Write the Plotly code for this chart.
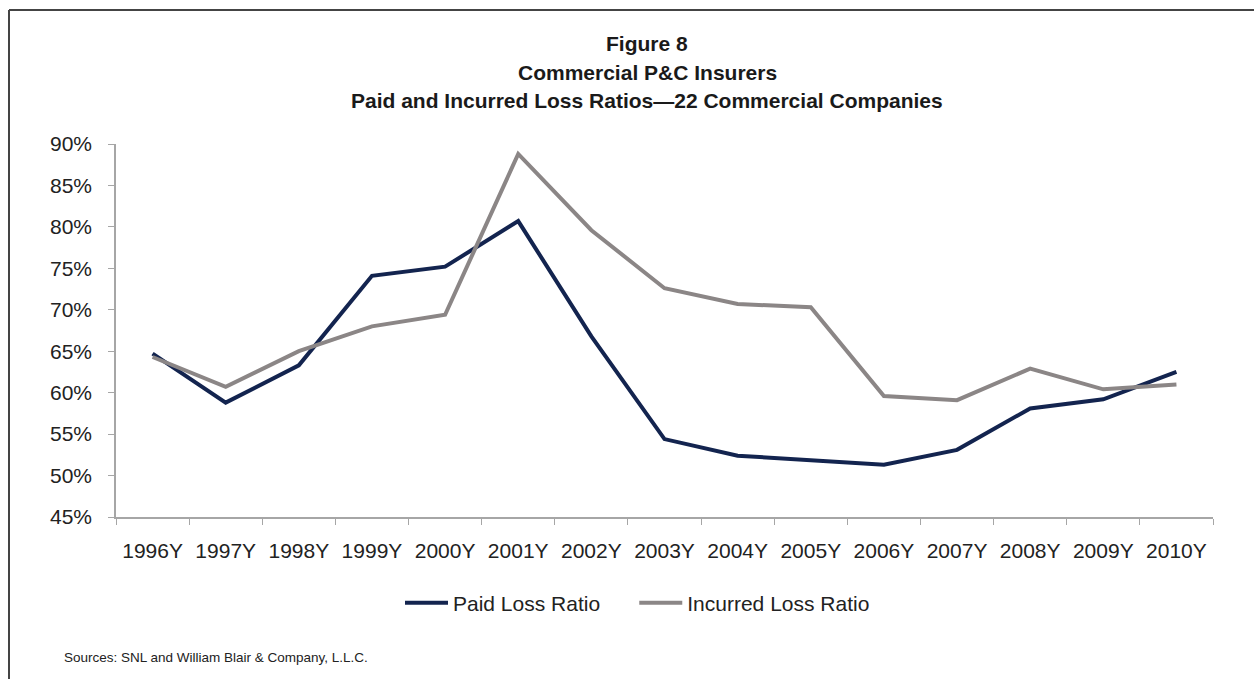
import plotly.graph_objects as go

# Loss ratio data (percent) for 22 commercial P&C companies
years = ["1996Y", "1997Y", "1998Y", "1999Y", "2000Y", "2001Y", "2002Y", "2003Y",
         "2004Y", "2005Y", "2006Y", "2007Y", "2008Y", "2009Y", "2010Y"]
paid_loss_ratio = [64.7, 58.8, 63.3, 74.1, 75.2, 80.7, 66.8, 54.4,
                   52.4, 51.9, 51.3, 53.1, 58.1, 59.2, 62.5]
incurred_loss_ratio = [64.3, 60.7, 65.0, 68.0, 69.4, 88.8, 79.6, 72.6,
                       70.7, 70.3, 59.6, 59.1, 62.9, 60.4, 61.0]
y_ticks = [45, 50, 55, 60, 65, 70, 75, 80, 85, 90]

title_lines = ["Figure 8", "Commercial P&C Insurers",
               "Paid and Incurred Loss Ratios\u201422 Commercial Companies"]
source_note = "Sources: SNL and William Blair & Company, L.L.C."

W, H = 1254, 679
L, R, T, B = 116, 41, 144, 162
PW, PH = W - L - R, H - T - B


def px(x):
    return (x - L) / PW


def py(y):
    return (H - B - y) / PH


FONT = "Liberation Sans, Arial, sans-serif"
TEXT = "#222222"
GAP = "\u00a0" * 5  # extra room between legend entries

fig = go.Figure()
fig.add_trace(go.Scatter(x=years, y=paid_loss_ratio, mode="lines",
                         name="Paid Loss Ratio" + GAP,
                         line=dict(color="#13244f", width=4)))
fig.add_trace(go.Scatter(x=years, y=incurred_loss_ratio, mode="lines",
                         name="Incurred Loss Ratio",
                         line=dict(color="#8b8686", width=4)))

annotations = []
for i, line in enumerate(title_lines):
    annotations.append(dict(text=f"<b>{line}</b>", x=px(647), y=py(43 + 29 * i),
                            xref="paper", yref="paper", showarrow=False,
                            xanchor="center", yanchor="middle",
                            font=dict(family=FONT, size=21, color="#1a1a1a")))
annotations.append(dict(text=source_note, x=px(62), y=py(657),
                        xref="paper", yref="paper", showarrow=False,
                        xanchor="left", yanchor="middle",
                        font=dict(family=FONT, size=13.5, color=TEXT)))

# Outer frame (left and top edges)
shapes = [
    dict(type="line", xref="paper", yref="paper",
         x0=px(9), x1=px(9), y0=py(10), y1=py(H + 10),
         line=dict(color="#444444", width=2)),
    dict(type="line", xref="paper", yref="paper",
         x0=px(9), x1=px(W + 10), y0=py(10), y1=py(10),
         line=dict(color="#444444", width=2)),
]

fig.update_layout(
    width=W, height=H,
    margin=dict(l=L, r=R, t=T, b=B, autoexpand=False),
    paper_bgcolor="white", plot_bgcolor="white",
    font=dict(family=FONT, size=21, color=TEXT),
    showlegend=True,
    legend=dict(orientation="h", x=px(400), y=py(603),
                xanchor="left", yanchor="middle",
                font=dict(family=FONT, size=21, color=TEXT),
                itemwidth=43, traceorder="normal"),
    annotations=annotations,
    shapes=shapes,
)
fig.update_xaxes(type="category", range=[-0.5, len(years) - 0.5],
                 showline=True, linecolor="#a6a6a6", linewidth=1.5,
                 ticks="outside", ticklen=6, tickcolor="#a6a6a6",
                 tickson="boundaries", showgrid=False, zeroline=False,
                 ticklabelstandoff=14,
                 tickfont=dict(family=FONT, size=21, color=TEXT))
fig.update_yaxes(range=[45, 90], tickvals=y_ticks,
                 ticktext=[f"{v}%" for v in y_ticks],
                 showline=True, linecolor="#a6a6a6", linewidth=1.5,
                 ticks="outside", ticklen=6, tickcolor="#a6a6a6",
                 showgrid=False, zeroline=False, ticklabelstandoff=12,
                 tickfont=dict(family=FONT, size=21, color=TEXT))

fig.write_html("out.html")
